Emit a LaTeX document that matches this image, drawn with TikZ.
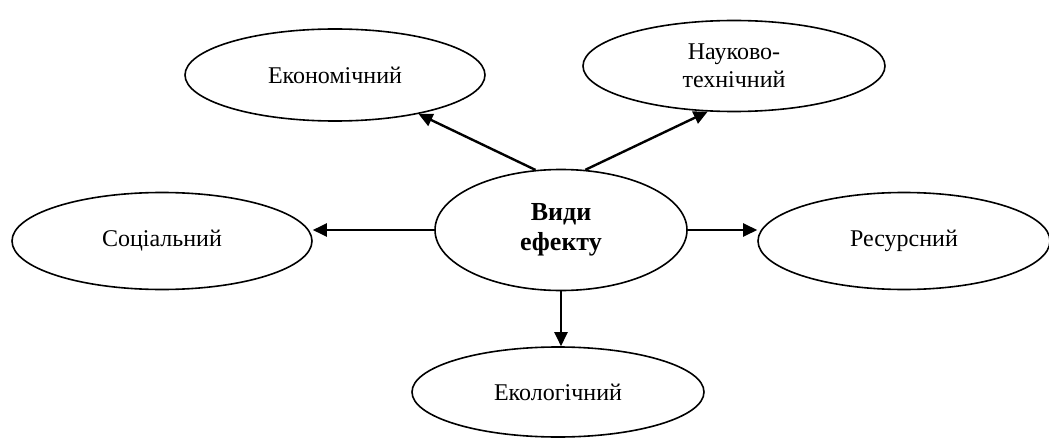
\documentclass[tikz,border=0pt]{standalone}
\usepackage{fontspec}
\setmainfont{Liberation Serif}
\usepackage{tikz}
\usetikzlibrary{arrows.meta,shapes.geometric,positioning}
\tikzstyle{kind} = [ellipse, draw=black, line width=1.6pt, inner sep=0pt, minimum width=300pt, minimum height=92pt, align=center, font=\fontsize{24}{28}\selectfont]
\tikzstyle{hub} = [kind, minimum width=252pt, minimum height=121pt, font=\fontsize{26}{30}\selectfont\bfseries]
\tikzstyle{arrow} = [line width=2.4pt, -{Triangle[length=14pt,width=13pt]}]

\begin{document}
\begin{tikzpicture}[x=1pt,y=-1pt]
\useasboundingbox (0,0) rectangle (1049,441);
% centre and the kinds of effect
\node[hub] (centre) at (561,230) {Види\\ефекту};
\node[kind] (econ) at (335,75) {Економічний};
\node[kind, minimum width=302pt, minimum height=91pt] (sci) at (734,66) {Науково-\\технічний};
\node[kind, minimum height=97pt] (social) at (162,241) {Соціальний};
\node[kind, minimum width=292pt, minimum height=97pt] (res) at (904,241) {Ресурсний};
\node[kind, minimum width=292pt, minimum height=90pt] (eco) at (558,392) {Екологічний};

\draw[arrow] (centre.113) -- (econ.-25);
\draw[arrow] (centre.68) -- (sci.-120);
\draw[arrow] (centre.west) -- (social.east |- centre.west);
\draw[arrow] (centre.east) -- (res.west |- centre.east);
\draw[arrow] (centre.south) -- (centre.south |- eco.north);
\end{tikzpicture}
\end{document}
